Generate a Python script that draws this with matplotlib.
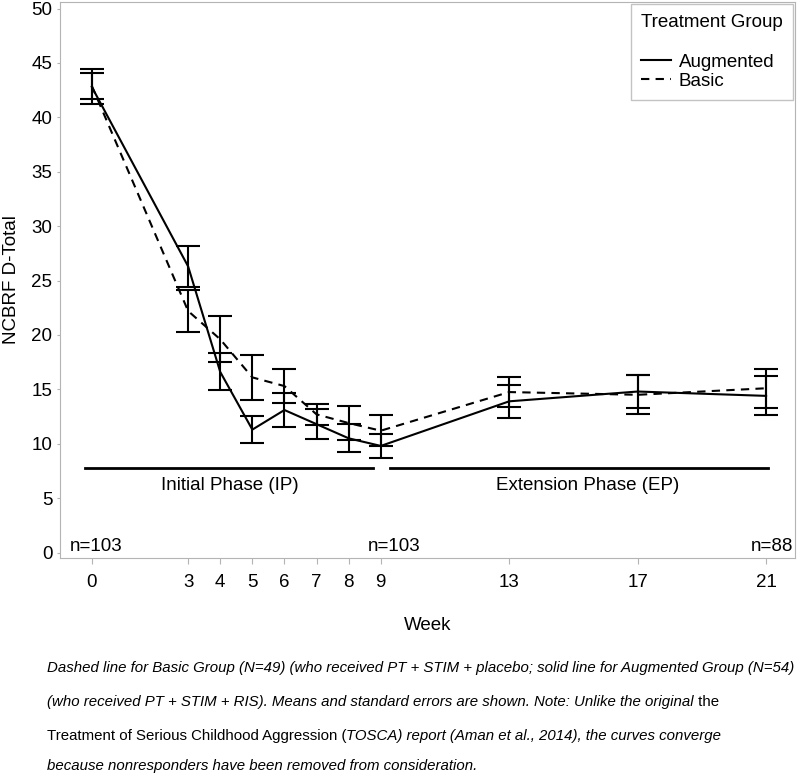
import matplotlib
matplotlib.use("Agg")
import matplotlib.pyplot as plt
from matplotlib.lines import Line2D

plt.rcParams["font.family"] = ["Liberation Sans", "DejaVu Sans"]

# weekly means and standard errors
weeks = [0, 3, 4, 5, 6, 7, 8, 9, 13, 17, 21]
aug_mean = [42.8, 26.3, 16.6, 11.3, 13.1, 11.8, 10.5, 9.8, 13.9, 14.8, 14.4]
aug_se = [1.6, 1.9, 1.7, 1.25, 1.6, 1.4, 1.3, 1.1, 1.5, 1.5, 1.8]
basic_mean = [42.9, 22.2, 19.6, 16.1, 15.3, 12.7, 11.9, 11.2, 14.75, 14.5, 15.1]
basic_se = [1.2, 1.9, 2.1, 2.1, 1.6, 0.95, 1.6, 1.4, 1.35, 1.8, 1.8]

phase_labels = ["Initial Phase (IP)", "Extension Phase (EP)"]
phase_spans = [(-0.2, 8.77), (9.29, 21.05)]
phase_text_x = [4.3, 15.45]
phase_y = 7.8

n_labels = ["n=103", "n=103", "n=88"]
n_x = [-0.7, 9.4, 21.85]

GRAY = "#b4b4b4"
FS = 13.5
DASH = (0, (4, 3))

fig = plt.figure(figsize=(7.99, 7.73), dpi=100)
ax = fig.add_axes([60 / 799, 1 - 558 / 773, 735 / 799, 556 / 773])

ax.errorbar(weeks, aug_mean, yerr=aug_se, color="black", lw=1.5, ls="-",
            elinewidth=1.5, capsize=8.6, capthick=1.5)
ax.errorbar(weeks, basic_mean, yerr=basic_se, color="black", lw=1.5,
            ls=DASH, elinewidth=1.5, capsize=8.6, capthick=1.5)

# phase bars
for (x0, x1), lab, tx in zip(phase_spans, phase_labels, phase_text_x):
    ax.plot([x0, x1], [phase_y, phase_y], color="black", lw=2)
    ax.text(tx, phase_y - 1.6, lab, ha="center", va="center", fontsize=FS)

aligns = ["left", "center", "right"]
for lab, x, ha in zip(n_labels, n_x, aligns):
    ax.text(x, 0.55, lab, ha=ha, va="center", fontsize=FS)

ax.set_xlim(-0.99, 21.9)
ax.set_ylim(-0.5, 50.6)
ax.set_xticks(weeks)
ax.set_yticks(range(0, 51, 5))
ax.tick_params(axis="x", length=4.5, color=GRAY, labelsize=FS, pad=7)
ax.tick_params(axis="y", length=2.5, color=GRAY, labelsize=FS, pad=3)
for sp in ax.spines.values():
    sp.set_color(GRAY)
ax.set_xlabel("Week", fontsize=FS, labelpad=19)
ax.set_ylabel("NCBRF D-Total", fontsize=FS, labelpad=8)

handles = [Line2D([], [], color="black", lw=1.5),
           Line2D([], [], color="black", lw=1.5, ls=DASH)]
leg = ax.legend(handles, ["Augmented", "Basic"], title="Treatment Group",
                loc="upper right", fontsize=FS, title_fontsize=FS,
                fancybox=False, edgecolor=GRAY, handlelength=1.6,
                handletextpad=0.4, labelspacing=0.1, borderaxespad=0.1,
                borderpad=0.55, alignment="left")
leg.get_frame().set_linewidth(1.0)
leg._legend_box.sep = 16

# caption with mixed italic / upright pieces
cap_font = ["Liberation Sans Narrow", "Liberation Sans", "DejaVu Sans"]
caption = [
    [("Dashed line for Basic Group (N=49) (who received PT + STIM + placebo; solid line for Augmented Group (N=54)", "italic")],
    [("(who received PT + STIM + RIS). Means and standard errors are shown. Note: Unlike the original", "italic"),
     (" the", "normal")],
    [("Treatment of Serious Childhood Aggression (", "normal"),
     ("TOSCA) report (Aman et al., 2014), the curves converge", "italic")],
    [("because nonresponders have been removed from consideration.", "italic")],
]
cap_y = [668, 702, 736, 766]

renderer = fig.canvas.get_renderer()
# size the caption so the first line spans the same width as in the source
probe = fig.text(0, 0, caption[0][0][0], fontsize=12, style="italic",
                 family=cap_font)
cap_fs = 12 * 746 / probe.get_window_extent(renderer).width
probe.remove()

for parts, ypx in zip(caption, cap_y):
    xpx = 47
    for txt, style in parts:
        t = fig.text(xpx / 799, 1 - ypx / 773, txt, fontsize=cap_fs,
                     style=style, family=cap_font, ha="left", va="center")
        xpx += t.get_window_extent(renderer).width

fig.savefig("out.png", dpi=100)
